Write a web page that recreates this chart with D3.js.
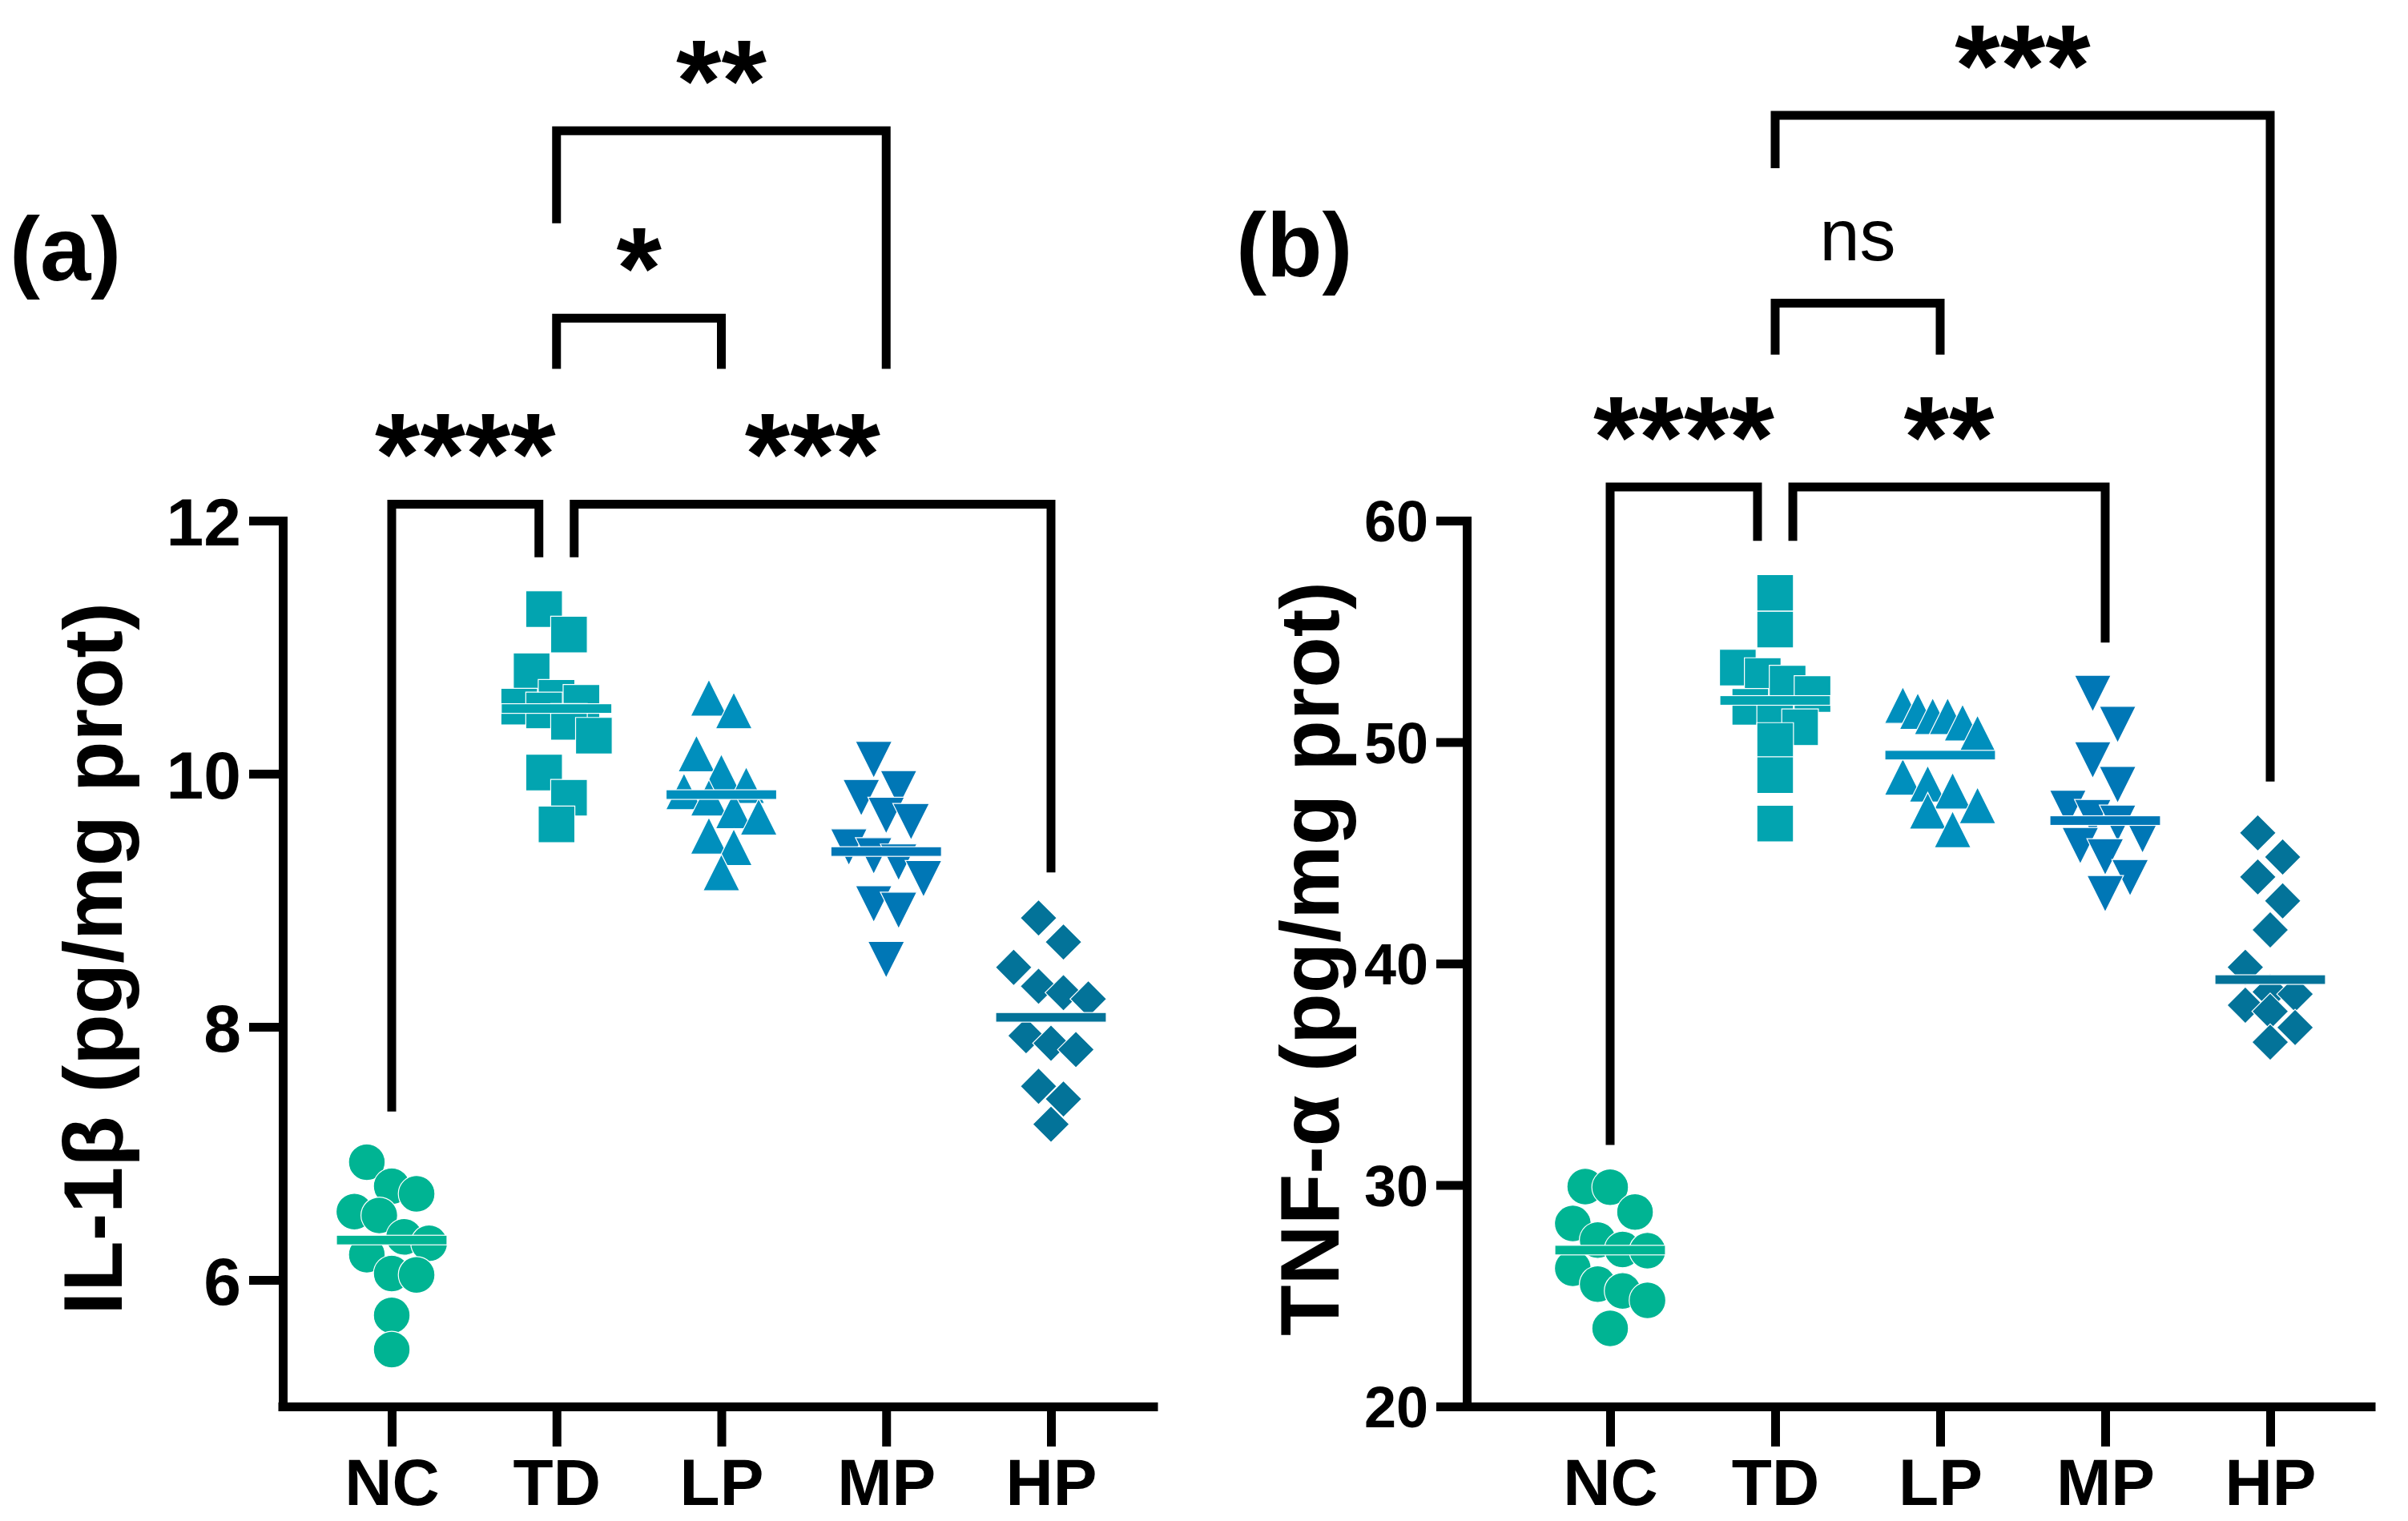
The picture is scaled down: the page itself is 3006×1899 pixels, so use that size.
<!DOCTYPE html>
<html>
<head>
<meta charset="utf-8">
<script src="https://cdn.jsdelivr.net/npm/d3@7"></script>
<style>
  html, body { margin: 0; padding: 0; background: #fff; }
  text { font-family: "Liberation Sans", Arial, sans-serif; }
</style>
</head>
<body>
<div id="chart"></div>
<script>
// groups on the x axis
const groups = ["NC", "TD", "LP", "MP", "HP"]
const groupColors = ["#00b493", "#02a4b0", "#008fbd", "#0077b6", "#037399"]
const groupShapes = ["circle", "square", "triangleUp", "triangleDown", "diamond"]

// (a) IL-1β, pg/mg prot
const il1bNC = [6.93, 6.74, 6.68, 6.54, 6.51, 6.34, 6.29, 6.20, 6.05, 6.04, 5.72, 5.45]
const il1bTD = [11.30, 11.10, 10.81, 10.60, 10.56, 10.53, 10.50, 10.41, 10.30, 10.01, 9.81, 9.60]
const il1bLP = [10.60, 10.50, 10.16, 10.01, 9.91, 9.86, 9.81, 9.71, 9.66, 9.51, 9.42, 9.22]
const il1bMP = [10.11, 9.88, 9.81, 9.67, 9.62, 9.42, 9.35, 9.30, 9.17, 8.97, 8.92, 8.53]
const il1bHP = [8.86, 8.67, 8.47, 8.32, 8.27, 8.22, 7.93, 7.87, 7.82, 7.53, 7.43, 7.23]
const il1bTicks = [6, 8, 10, 12]

// (b) TNF-α, pg/mg prot
const tnfNC = [29.93, 29.90, 28.78, 28.26, 27.51, 27.09, 27.03, 26.24, 25.52, 25.22, 24.79, 23.53]
const tnfTD = [56.74, 55.08, 53.36, 52.98, 52.64, 52.17, 51.59, 50.87, 50.67, 50.05, 48.51, 46.32]
const tnfLP = [51.67, 51.40, 51.17, 51.17, 50.88, 50.39, 48.43, 48.12, 47.80, 47.14, 46.90, 46.06]
const tnfMP = [52.19, 50.79, 49.19, 48.07, 47.00, 46.58, 46.33, 45.81, 45.32, 44.81, 43.87, 43.15]
const tnfHP = [45.90, 44.81, 43.91, 42.83, 41.52, 39.83, 38.72, 38.62, 38.12, 37.84, 37.11, 36.45]
const tnfTicks = [20, 30, 40, 50, 60]

// significance brackets (heights in y-axis units)
const il1bBrackets = [
  {from: "NC", to: "TD", top: 12.13, legFrom: 7.33, legTo: 11.71, nudgeTo: -1, label: "****"},
  {from: "TD", to: "HP", top: 12.13, legFrom: 11.71, legTo: 9.22, nudgeFrom: 1, label: "***"},
  {from: "TD", to: "LP", top: 13.60, legFrom: 13.20, legTo: 13.20, label: "*"},
  {from: "TD", to: "MP", top: 15.08, legFrom: 14.35, legTo: 13.20, label: "**"}
]
const tnfBrackets = [
  {from: "NC", to: "TD", top: 61.52, legFrom: 31.81, legTo: 59.09, nudgeTo: -1, label: "****"},
  {from: "TD", to: "MP", top: 61.52, legFrom: 59.09, legTo: 54.49, nudgeFrom: 1, label: "**"},
  {from: "TD", to: "LP", top: 69.82, legFrom: 67.50, legTo: 67.50, label: "ns"},
  {from: "TD", to: "HP", top: 78.30, legFrom: 75.91, legTo: 48.22, label: "***"}
]

const width = 3006, height = 1899
const lineW = 11
const markerSize = 45.7
const fontStack = '"Liberation Sans", Arial, sans-serif'

var svg = d3.select("#chart")
  .append("svg")
  .attr("width", width)
  .attr("height", height)
  .style("display", "block")
  .style("background", "#fff")

// marker outlines
function shapePath(shape, s) {
  const h = s / 2
  if (shape === "circle") return d3.symbol(d3.symbolCircle, Math.PI * h * h)()
  if (shape === "square") return `M${-h},${-h}H${h}V${h}H${-h}Z`
  if (shape === "triangleUp") return `M0,${-h}L${h},${h}L${-h},${h}Z`
  if (shape === "triangleDown") return `M0,${h}L${h},${-h}L${-h},${-h}Z`
  return `M0,${-h}L${h},0L0,${h}L${-h},0Z`
}

// spread points that sit at about the same height side by side
function swarm(values, cx, y) {
  const pts = values.map(v => ({v: v, y: y(v)})).sort((a, b) => a.y - b.y)
  const rows = []
  let cur = null
  pts.forEach(p => {
    if (!cur || p.y - cur[0].y >= markerSize * 0.9) { cur = [p]; rows.push(cur) }
    else cur.push(p)
  })
  rows.forEach(r => {
    const n = r.length
    const gap = n > 1 ? Math.min(markerSize * 0.68, markerSize * 2.04 / (n - 1)) : 0
    r.forEach((p, i) => { p.x = cx + (i - (n - 1) / 2) * gap })
  })
  return pts
}

function drawPanel(p) {
  var g = svg.append("g")

  // categories sit between the axis ends
  var x = d3.scalePoint().domain(groups).range(p.catRange)
  var y = d3.scaleLinear().domain(p.yDomain).range([1756, 650])

  // y axis
  var yAxis = g.append("g")
    .attr("transform", "translate(" + p.axisX + ",0)")
    .call(d3.axisLeft(y).tickValues(p.ticks).tickFormat(d3.format("d"))
      .tickSize(p.tickLen).tickSizeOuter(0).tickPadding(10))
  yAxis.select(".domain").attr("stroke-width", lineW).attr("stroke-linecap", "square")
  yAxis.selectAll(".tick line").attr("stroke-width", lineW)
  yAxis.selectAll(".tick text")
    .style("font-family", fontStack).style("font-size", p.tickFont).style("font-weight", "bold")
    .attr("fill", "#000").attr("dy", "0.36em")

  // x axis, line runs from the y axis to the panel end
  var xAxis = g.append("g")
    .attr("transform", "translate(0," + y.range()[0] + ")")
    .call(d3.axisBottom(x).tickSize(50).tickSizeOuter(0).tickPadding(14))
  xAxis.select(".domain")
    .attr("d", "M" + p.axisX + ",0.5H" + p.axisEnd)
    .attr("stroke-width", lineW).attr("stroke-linecap", "square")
  xAxis.selectAll(".tick line").attr("stroke-width", lineW)
  xAxis.selectAll(".tick text")
    .style("font-family", fontStack).style("font-size", "82px").style("font-weight", "bold")
    .attr("fill", "#000").attr("dy", "0.72em")

  // axis title
  g.append("text")
    .attr("transform", "translate(" + p.titleX + ",1197) rotate(-90)")
    .attr("text-anchor", "middle")
    .style("font-size", "104px").style("font-weight", "bold")
    .text(p.title)

  // panel letter
  g.append("text")
    .attr("x", p.letterX).attr("y", p.letterY)
    .style("font-size", "114px").style("font-weight", "bold")
    .text(p.letter)

  // points and median lines
  groups.forEach((grp, i) => {
    var pts = swarm(p.values[i], x(grp), y)
    g.selectAll(null)
      .data(pts)
      .enter()
      .append("path")
        .attr("d", shapePath(groupShapes[i], markerSize))
        .attr("transform", d => "translate(" + d.x + "," + d.y + ")")
        .attr("fill", groupColors[i])
        .attr("stroke", "#fff")
        .attr("stroke-width", 1.2)
    var med = d3.median(p.values[i])
    g.append("rect")
      .attr("x", x(grp) - 69).attr("y", y(med) - 6)
      .attr("width", 138).attr("height", 12)
      .attr("fill", groupColors[i])
      .attr("stroke", "#fff").attr("stroke-width", 1.2)
  })

  // significance brackets
  var side = x.step() * 0.107
  p.brackets.forEach(b => {
    var x1 = x(b.from) + (b.nudgeFrom || 0) * side
    var x2 = x(b.to) + (b.nudgeTo || 0) * side
    var yt = y(b.top)
    g.append("path")
      .attr("d", "M" + x1 + "," + y(b.legFrom) + "V" + yt + "H" + x2 + "V" + y(b.legTo))
      .attr("fill", "none").attr("stroke", "#000").attr("stroke-width", lineW)
      .attr("stroke-linejoin", "miter")
    var isNs = b.label === "ns"
    g.append("text")
      .attr("x", (x1 + x2) / 2)
      .attr("y", isNs ? yt - 53 : yt - 12)
      .attr("text-anchor", "middle")
      .style("font-size", isNs ? "90px" : "145px")
      .style("font-weight", isNs ? "normal" : "bold")
      .text(b.label)
  })
}

drawPanel({
  axisX: 353, axisEnd: 1440, catRange: [489, 1312],
  yDomain: [5, 12], ticks: il1bTicks, tickFont: "84px", tickLen: 42,
  values: [il1bNC, il1bTD, il1bLP, il1bMP, il1bHP],
  brackets: il1bBrackets,
  title: "IL-1β (pg/mg prot)", titleX: 152,
  letter: "(a)", letterX: 12, letterY: 350
})

drawPanel({
  axisX: 1831, axisEnd: 2960, catRange: [2010, 2834],
  yDomain: [20, 60], ticks: tnfTicks, tickFont: "72px", tickLen: 38,
  values: [tnfNC, tnfTD, tnfLP, tnfMP, tnfHP],
  brackets: tnfBrackets,
  title: "TNF-α (pg/mg prot)", titleX: 1671,
  letter: "(b)", letterX: 1543, letterY: 345
})
</script>
</body>
</html>
